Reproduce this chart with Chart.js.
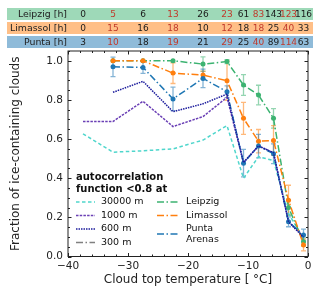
<!DOCTYPE html>
<html>
<head>
<meta charset="utf-8">
<script src="https://cdn.jsdelivr.net/npm/chart.js@4.4.1/dist/chart.umd.min.js"></script>
<style>
  body { margin: 0; background: #fff; }
  #wrap { position: relative; width: 320px; height: 293px; font-family: 'DejaVu Sans', sans-serif; }
  #chart { position: absolute; left: 0; top: 0; }
  .row { position: absolute; left: 7px; width: 306px; height: 12px; }
  .lab { position: absolute; top: 0; right: 246px; line-height: 12px; font-size: 9.4px; color: #222; white-space: nowrap; }
  .cell { position: absolute; top: 0; width: 30px; margin-left: -15px; text-align: center; line-height: 12px; font-size: 9px; color: #1a1a1a; white-space: nowrap; }
  .cell.odd { color: #c0392b; }
</style>
</head>
<body>
<div id="wrap">
  <canvas id="chart" width="320" height="293"></canvas>
  <div id="table"></div>
</div>
<script>
// temperature bins (bin centres, deg C)
const binCenters = [-37.5, -32.5, -27.5, -22.5, -17.5, -13.5, -10.75, -8.25, -5.75, -3.25, -0.75];

// hours of observation per bin (table on top)
const leipzigHours  = [0, 5, 6, 13, 26, 23, 61, 83, 143, 123, 116];
const limassolHours = [0, 15, 16, 18, 10, 12, 18, 18, 25, 40, 33];
const puntaHours    = [3, 10, 18, 19, 21, 29, 25, 40, 89, 114, 63];

// fraction of ice-containing clouds
const leipzigFrac  = [null, 1.0, 1.0, 1.0, 0.983, 0.996, 0.876, 0.825, 0.706, 0.25, 0.075];
const limassolFrac = [null, 1.0, 1.0, 0.937, 0.927, 0.898, 0.706, 0.589, 0.593, 0.288, 0.059];
const puntaFrac    = [null, 0.969, 0.966, 0.805, 0.91, 0.842, 0.477, 0.564, 0.525, 0.177, 0.11];

const leipzigErr  = [null, 0, 0, 0, 0.037, 0.01, 0.053, 0.05, 0.05, 0.04, 0.02];
const limassolErr = [null, 0, 0, 0.053, 0.02, 0.1, 0.082, 0.06, 0.076, 0.076, 0.03];
const puntaErr    = [null, 0.05, 0.03, 0.06, 0.047, 0.03, 0.07, 0.06, 0.05, 0.025, 0.03];

// autocorrelation function < 0.8 at ...
const ac30000 = [0.627, 0.533, 0.54, 0.55, 0.595, 0.669, 0.40, 0.51, 0.49, 0.22, 0.09];
const ac1000  = [0.69, 0.69, 0.793, 0.664, 0.715, 0.813, 0.48, 0.565, 0.53, 0.18, 0.1];
const ac600   = [null, 0.839, 0.895, 0.74, 0.78, 0.83, 0.48, 0.565, 0.53, 0.177, 0.098];
const ac300   = [null, null, null, null, null, null, null, null, null, null, null];

const xTickVals = [-40, -30, -20, -10, 0];
const yTickVals = [0, 0.2, 0.4, 0.6, 0.8, 1.0];

const FONT = 'DejaVu Sans';

function pts(arr) {
    return binCenters.map((t, i) => ({ x: t, y: arr[i] }));
}

function lineSet(label, arr, color, dash, order, markers) {
    return {
        label: label,
        data: pts(arr),
        borderColor: color,
        backgroundColor: color,
        borderWidth: 1.5,
        borderDash: dash,
        pointRadius: markers ? 2.5 : 0,
        pointBorderWidth: 0,
        tension: 0,
        fill: false,
        order: order,
    };
}

const dashDot = [7, 2.5, 1.5, 2.5];

const datasets = [
    lineSet('30000 m', ac30000, '#4fd6cc', [3.5, 2.5], 7, false),
    lineSet('1000 m', ac1000, '#6a3fb5', [2.5, 1.2], 6, false),
    lineSet('600 m', ac600, '#1c1c9c', [1.5, 1], 1, false),
    lineSet('300 m', ac300, '#808080', dashDot, 5, false),
    lineSet('Leipzig', leipzigFrac, '#3cb371', dashDot, 4, true),
    lineSet('Limassol', limassolFrac, '#ff7f0e', dashDot, 3, true),
    lineSet('Punta Arenas', puntaFrac, '#1f77b4', dashDot, 2, true),
];

const errorSeries = [
    { values: leipzigFrac, err: leipzigErr, color: '#3cb371' },
    { values: limassolFrac, err: limassolErr, color: '#ff7f0e' },
    { values: puntaFrac, err: puntaErr, color: '#1f77b4' },
];

function byLabel(chart, label) {
    return chart.data.datasets.find(d => d.label === label);
}

function legendLine(ctx, x0, x1, yy, ds) {
    ctx.save();
    ctx.strokeStyle = ds.borderColor;
    ctx.lineWidth = ds.borderWidth;
    ctx.setLineDash(ds.borderDash || []);
    ctx.beginPath();
    ctx.moveTo(x0, yy);
    ctx.lineTo(x1, yy);
    ctx.stroke();
    ctx.restore();
}

const decorations = {
    id: 'decorations',
    beforeDatasetsDraw(chart) {
        const { ctx, scales: { x, y } } = chart;
        ctx.save();
        ctx.globalAlpha = 0.55;
        ctx.lineWidth = 1.3;
        errorSeries.forEach(s => {
            ctx.strokeStyle = s.color;
            binCenters.forEach((t, i) => {
                const v = s.values[i], e = s.err[i];
                if (v == null || !e) return;
                const px = x.getPixelForValue(t);
                const top = y.getPixelForValue(v + e);
                const bot = y.getPixelForValue(v - e);
                ctx.beginPath();
                ctx.moveTo(px, top); ctx.lineTo(px, bot);
                ctx.moveTo(px - 2.5, top); ctx.lineTo(px + 2.5, top);
                ctx.moveTo(px - 2.5, bot); ctx.lineTo(px + 2.5, bot);
                ctx.stroke();
            });
        });
        ctx.restore();
    },
    afterDraw(chart) {
        const { ctx, chartArea: a, scales: { x, y } } = chart;
        ctx.save();
        // frame
        ctx.strokeStyle = '#222';
        ctx.lineWidth = 1;
        ctx.strokeRect(a.left, a.top, a.right - a.left, a.bottom - a.top);

        // inward ticks on all sides
        ctx.beginPath();
        for (let v = -40; v <= 0; v += 2) {
            const px = Math.round(x.getPixelForValue(v)) + 0.5;
            const len = v % 10 === 0 ? 3.5 : 2;
            ctx.moveTo(px, a.bottom); ctx.lineTo(px, a.bottom - len);
            ctx.moveTo(px, a.top); ctx.lineTo(px, a.top + len);
        }
        for (let k = 0; k <= 21; k++) {
            const v = k * 0.05;
            const py = Math.round(y.getPixelForValue(v)) + 0.5;
            const len = k % 4 === 0 ? 3.5 : 2;
            ctx.moveTo(a.left, py); ctx.lineTo(a.left + len, py);
            ctx.moveTo(a.right, py); ctx.lineTo(a.right - len, py);
        }
        ctx.stroke();

        // legend
        ctx.fillStyle = '#111';
        ctx.textBaseline = 'middle';
        ctx.font = 'bold 10px ' + FONT;
        ctx.fillText('autocorrelation', 76, 177);
        ctx.fillText('function <0.8 at', 76, 189.5);

        ctx.font = '9.5px ' + FONT;
        const leftCol = [['30000 m', 202], ['1000 m', 215.5], ['600 m', 229], ['300 m', 242.5]];
        leftCol.forEach(([lab, yy]) => {
            legendLine(ctx, 76, 95, yy, byLabel(chart, lab));
            ctx.fillStyle = '#111';
            ctx.fillText(lab, 101, yy);
        });
        const rightCol = [['Leipzig', 202, ['Leipzig']], ['Limassol', 215.5, ['Limassol']], ['Punta Arenas', 234, ['Punta', 'Arenas']]];
        rightCol.forEach(([lab, yy, lines]) => {
            legendLine(ctx, 157, 178, yy, byLabel(chart, lab));
            ctx.fillStyle = '#111';
            lines.forEach((t, j) => {
                ctx.fillText(t, 186, yy + (j - (lines.length - 1) / 2) * 11);
            });
        });
        ctx.restore();
    }
};

const chart = new Chart(document.getElementById('chart'), {
    type: 'line',
    data: { datasets: datasets },
    options: {
        responsive: false,
        animation: false,
        events: [],
        layout: { padding: { top: 51, right: 12, left: 5, bottom: 6 } },
        plugins: { legend: { display: false }, tooltip: { enabled: false } },
        scales: {
            x: {
                type: 'linear', min: -40, max: 0,
                afterBuildTicks: s => { s.ticks = xTickVals.map(v => ({ value: v })); },
                afterFit: s => { s.height = 30.5; },
                grid: { display: false, drawTicks: false },
                border: { display: false },
                ticks: {
                    color: '#222', padding: 3,
                    font: { family: FONT, size: 10.5 },
                    callback: v => String(v).replace('-', '\u2212'),
                },
                title: {
                    display: true, text: 'Cloud top temperature [ \u00b0C]', color: '#222',
                    font: { family: FONT, size: 12 }, padding: { top: 0, bottom: 0 },
                },
            },
            y: {
                min: 0, max: 1.05,
                afterBuildTicks: s => { s.ticks = yTickVals.map(v => ({ value: v })); },
                afterFit: s => { s.width = 63; },
                grid: { display: false, drawTicks: false },
                border: { display: false },
                ticks: {
                    color: '#222', padding: 5,
                    font: { family: FONT, size: 10.5 },
                    callback: v => v.toFixed(1),
                },
                title: {
                    display: true, text: 'Fraction of ice-containing clouds', color: '#222',
                    font: { family: FONT, size: 12 }, padding: { top: 4, bottom: 4 },
                },
            },
        },
    },
    plugins: [decorations],
});

// hours table above the plot, columns aligned with the temperature bins
const tableRows = [
    { label: 'Leipzig [h]', hours: leipzigHours, bg: '#9ed9b8', top: 8 },
    { label: 'Limassol [h]', hours: limassolHours, bg: '#ffbf87', top: 22 },
    { label: 'Punta [h]', hours: puntaHours, bg: '#8fbbd9', top: 36 },
];
const table = document.getElementById('table');
tableRows.forEach(r => {
    const row = document.createElement('div');
    row.className = 'row';
    row.style.top = r.top + 'px';
    row.style.background = r.bg;
    const lab = document.createElement('span');
    lab.className = 'lab';
    lab.textContent = r.label;
    row.appendChild(lab);
    r.hours.forEach((h, i) => {
        const c = document.createElement('span');
        c.className = 'cell' + (i % 2 === 1 ? ' odd' : '');
        c.style.left = (chart.scales.x.getPixelForValue(binCenters[i]) - 7) + 'px';
        c.textContent = h;
        row.appendChild(c);
    });
    table.appendChild(row);
});
</script>
</body>
</html>
